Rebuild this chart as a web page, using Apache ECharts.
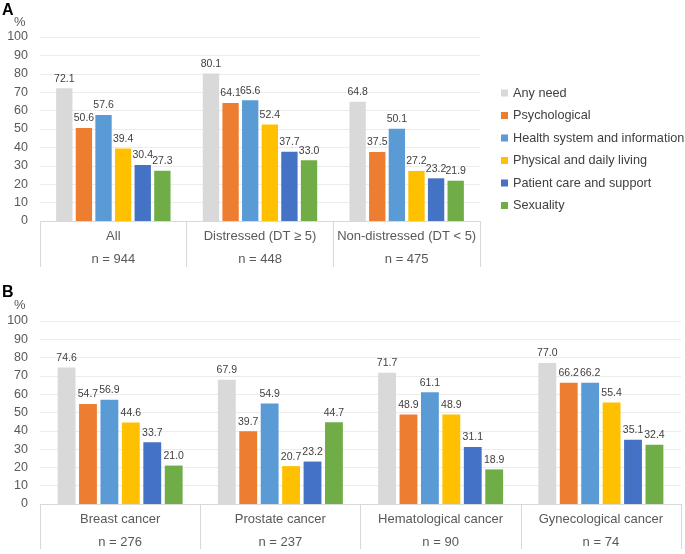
<!DOCTYPE html>
<html><head><meta charset="utf-8">
<script src="https://cdn.jsdelivr.net/npm/echarts@6/dist/echarts.min.js"></script>
<style>html,body{margin:0;padding:0;background:#fff}#c{width:685px;height:554px}</style>
</head><body><div id="c"></div>
<script>
const seriesNames = ['Any need','Psychological','Health system and information','Physical and daily living','Patient care and support','Sexuality'];
const colors = ['#d9d9d9','#ed7d31','#5b9bd5','#ffc000','#4472c4','#70ad47'];
const catsA = ['All','Distressed (DT \u2265 5)','Non-distressed (DT < 5)'];
const nA = ['n = 944','n = 448','n = 475'];
const catsB = ['Breast cancer','Prostate cancer','Hematological cancer','Gynecological cancer'];
const nB = ['n = 276','n = 237','n = 90','n = 74'];
// values per series (rows) across categories
const anyNeedA = [72.1, 80.1, 64.8];
const psychA = [50.6, 64.1, 37.5];
const healthA = [57.6, 65.6, 50.1];
const physA = [39.4, 52.4, 27.2];
const careA = [30.4, 37.7, 23.2];
const sexA = [27.3, 33.0, 21.9];
const anyNeedB = [74.6, 67.9, 71.7, 77.0];
const psychB = [54.7, 39.7, 48.9, 66.2];
const healthB = [56.9, 54.9, 61.1, 66.2];
const physB = [44.6, 20.7, 48.9, 55.4];
const careB = [33.7, 23.2, 31.1, 35.1];
const sexB = [21.0, 44.7, 18.9, 32.4];
const yTicks = [0, 100, 10];

const dataA = [anyNeedA, psychA, healthA, physA, careA, sexA];
const dataB = [anyNeedB, psychB, healthB, physB, careB, sexB];
const FONT = 'Liberation Sans, Arial, sans-serif';

function xAxis(cats, ns, gridIndex, tickLen) {
  return {
    type: 'category', gridIndex, data: cats.map((c, i) => c + '\n' + ns[i]),
    axisLine: { lineStyle: { color: '#d9d9d9', width: 1 } },
    axisTick: { show: true, interval: 0, length: tickLen, lineStyle: { color: '#d9d9d9' } },
    axisLabel: { interval: 0, margin: 4, color: '#595959', fontFamily: FONT, fontSize: 13, lineHeight: 23 }
  };
}
function yAxis(gridIndex) {
  return {
    type: 'value', gridIndex, min: yTicks[0], max: yTicks[1], interval: yTicks[2],
    axisLine: { show: false }, axisTick: { show: false },
    axisLabel: { margin: 12, color: '#595959', fontFamily: FONT, fontSize: 12.5 },
    splitLine: { lineStyle: { color: '#ececec' } }
  };
}
const series = [];
[dataA, dataB].forEach((d, gi) => {
  d.forEach((vals, si) => {
    series.push({
      name: seriesNames[si], type: 'bar', xAxisIndex: gi, yAxisIndex: gi,
      data: vals, itemStyle: { color: colors[si] },
      barCategoryGap: '22%', barGap: '20%',
      label: { show: true, position: 'top', distance: 4, color: '#404040', fontFamily: FONT, fontSize: 10.5,
        formatter: p => p.value.toFixed(1) }
    });
  });
});
const chart = echarts.init(document.getElementById('c'));
chart.setOption({
  animation: false,
  grid: [
    { left: 40, top: 37, width: 440, height: 184 },
    { left: 40, top: 321, width: 641, height: 184 }
  ],
  xAxis: [xAxis(catsA, nA, 0, 46), xAxis(catsB, nB, 1, 45)],
  yAxis: [yAxis(0), yAxis(1)],
  legend: {
    data: seriesNames, orient: 'vertical', left: 501, top: 86, padding: 0,
    itemWidth: 7, itemHeight: 7, itemGap: 8.5, itemTextGap: 3, icon: 'rect',
    textStyle: { color: '#404040', fontFamily: FONT, fontSize: 12.7, lineHeight: 14 }
  },
  graphic: [
    { type: 'text', left: 2, top: 3, style: { text: 'A', font: 'bold 16px ' + FONT, fill: '#000' } },
    { type: 'text', left: 14, top: 16, style: { text: '%', font: '13px ' + FONT, fill: '#595959' } },
    { type: 'text', left: 2, top: 285, style: { text: 'B', font: 'bold 16px ' + FONT, fill: '#000' } },
    { type: 'text', left: 14, top: 299, style: { text: '%', font: '13px ' + FONT, fill: '#595959' } }
  ],
  series
});
</script></body></html>
